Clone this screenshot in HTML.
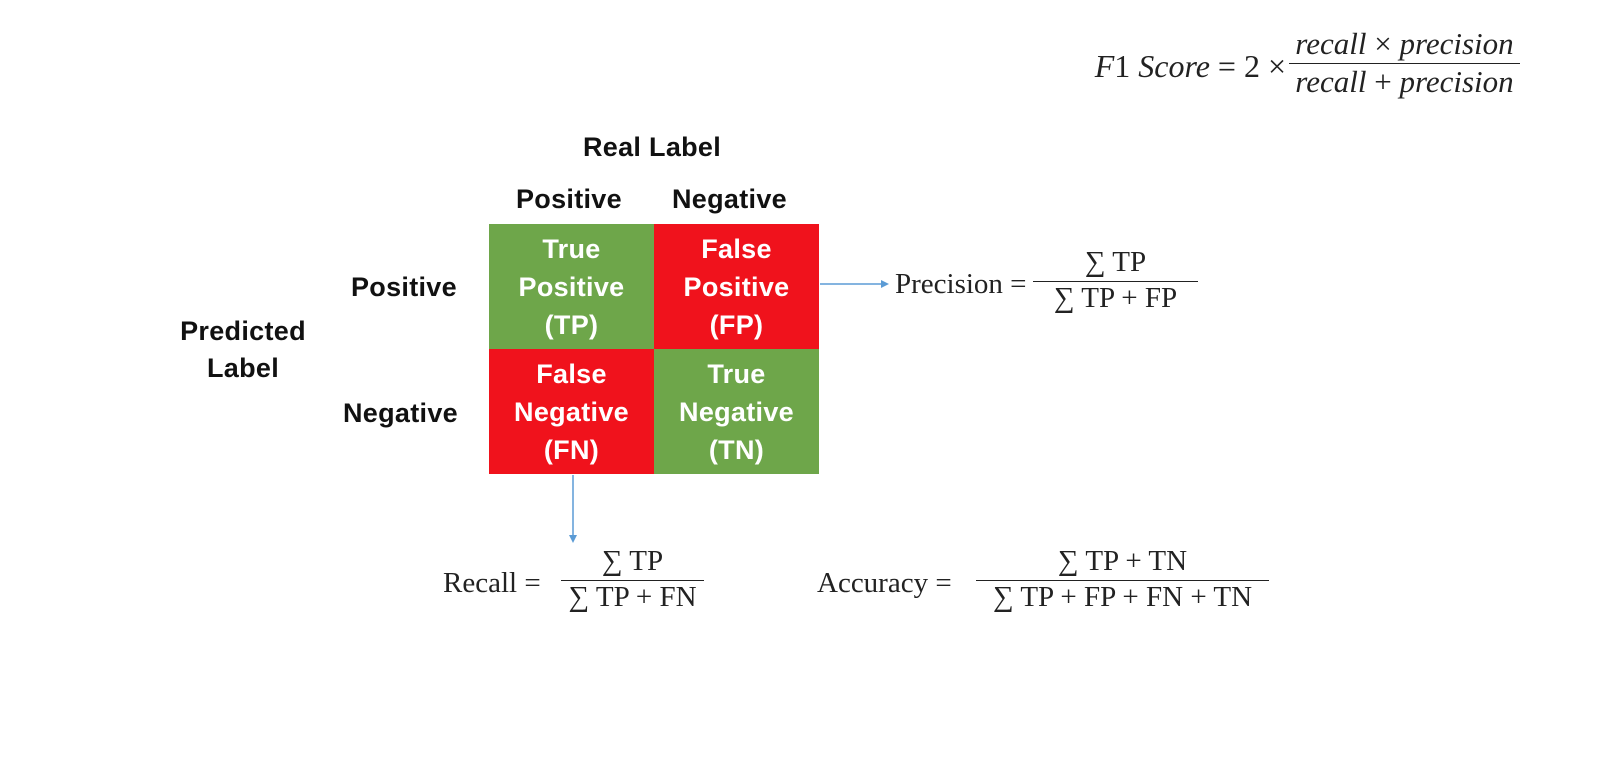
<!DOCTYPE html>
<html><head><style>
body{margin:0;width:1598px;height:762px;background:#fff;position:relative;overflow:hidden;font-family:"Liberation Sans",sans-serif}
.a{position:absolute;white-space:nowrap}
.b{font-weight:bold;font-size:27px;color:#111;letter-spacing:0.3px}
.c{position:absolute;width:165px;height:125px;color:#fff;font-weight:bold;font-size:27px;line-height:38px;text-align:center;display:flex;align-items:center;justify-content:center;letter-spacing:0.3px}
.g{background:#6ea64a}.r{background:#f0121c}
.s{font-family:"Liberation Serif",serif;font-size:29px;color:#222}
.f{position:absolute;font-family:"Liberation Serif",serif;font-size:29px;color:#222;text-align:center}
.f .n{padding:0 4px 2px}
.f .l{border-top:1.5px solid #222}
.i{font-style:italic}
</style></head><body>
<div class="a b" style="left:583px;top:132px">Real Label</div>
<div class="a b" style="left:516px;top:184px">Positive</div>
<div class="a b" style="left:672px;top:184px">Negative</div>
<div class="a b" style="left:351px;top:272px">Positive</div>
<div class="a b" style="left:343px;top:398px">Negative</div>
<div class="a b" style="left:172px;top:313px;text-align:center;line-height:37px;width:142px">Predicted<br>Label</div>
<div class="c g" style="left:489px;top:224px">True<br>Positive<br>(TP)</div>
<div class="c r" style="left:654px;top:224px">False<br>Positive<br>(FP)</div>
<div class="c r" style="left:489px;top:349px">False<br>Negative<br>(FN)</div>
<div class="c g" style="left:654px;top:349px">True<br>Negative<br>(TN)</div>
<svg class="a" style="left:0;top:0" width="1598" height="762">
<line x1="820" y1="284" x2="883" y2="284" stroke="#5b9bd5" stroke-width="1.5"/>
<polygon points="889,284 881,280 881,288" fill="#5b9bd5"/>
<line x1="573" y1="475" x2="573" y2="536" stroke="#5b9bd5" stroke-width="1.5"/>
<polygon points="573,543 569,535 577,535" fill="#5b9bd5"/>
</svg>
<div class="a s" style="left:895px;top:268px">Precision =</div>
<div class="f" style="left:1033px;top:246px;width:165px"><div class="n">∑ TP</div><div class="l">∑ TP + FP</div></div>
<div class="a s" style="left:443px;top:567px">Recall =</div>
<div class="f" style="left:561px;top:545px;width:143px"><div class="n">∑ TP</div><div class="l">∑ TP + FN</div></div>
<div class="a s" style="left:817px;top:567px">Accuracy =</div>
<div class="f" style="left:976px;top:545px;width:293px"><div class="n">∑ TP + TN</div><div class="l">∑ TP + FP + FN + TN</div></div>
<div class="a s i" style="right:312px;top:48px;font-size:32px"><span>F</span><span style="font-style:normal">1</span> Score <span style="font-style:normal">= 2 ×</span></div>
<div class="f i" style="left:1289px;top:26px;width:231px;font-size:31px"><div class="n" style="padding:0 0 1px">recall <span style="font-style:normal">×</span> precision</div><div class="l">recall <span style="font-style:normal">+</span> precision</div></div>
</body></html>
